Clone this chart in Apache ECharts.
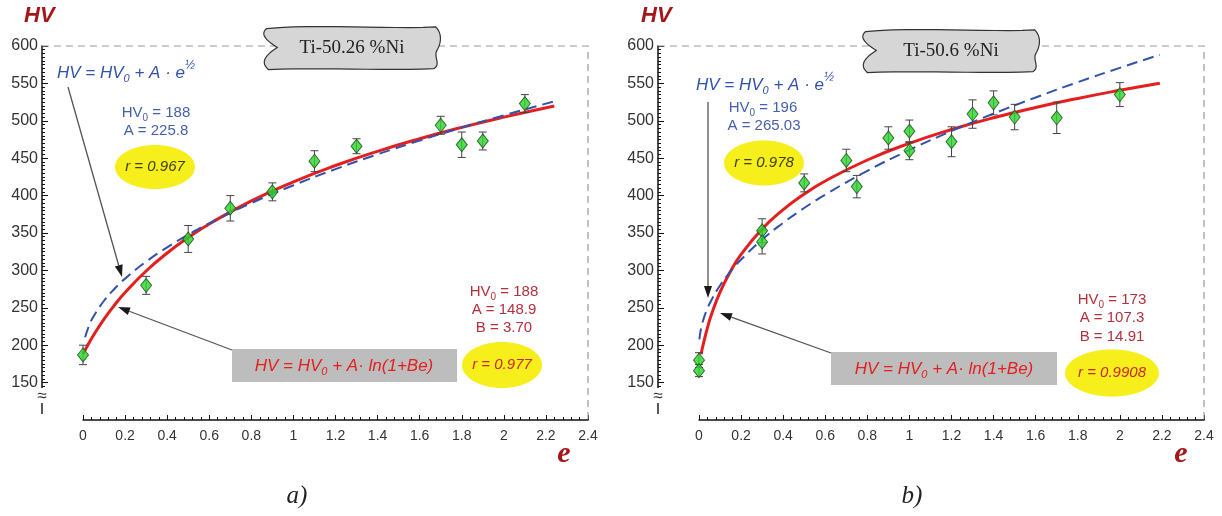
<!DOCTYPE html>
<html>
<head>
<meta charset="utf-8">
<script src="https://cdn.jsdelivr.net/npm/echarts@6/dist/echarts.min.js"></script>
<style>
  html, body { margin: 0; padding: 0; background: #fff; }
  #chart { width: 1222px; height: 516px; }
</style>
</head>
<body>
<div id="chart"></div>
<script>
// ---- data ----
// a) Ti-50.26 %Ni
var eA   = [0, 0.3, 0.5, 0.7, 0.9, 1.1, 1.3, 1.7, 1.8, 1.9, 2.1];
var hvA  = [187, 280, 342, 383, 405, 446, 466, 494, 468, 473, 523];
var errA = [13, 12, 18, 17, 12, 14, 10, 12, 17, 12, 12];
// fitted curves a)
var logEA  = [0, 0.02, 0.05, 0.1, 0.15, 0.2, 0.3, 0.4, 0.5, 0.6, 0.8, 1.0, 1.2, 1.4, 1.6, 1.8, 2.0, 2.24];
var logHA  = [188, 198.6, 213.3, 234.9, 253.7, 270.5, 299.2, 323.2, 343.9, 362.1, 392.9, 418.4, 440.2, 459.2, 476.0, 491.2, 504.9, 519.9];
var sqrtEA = [0.01, 0.03, 0.05, 0.1, 0.15, 0.2, 0.3, 0.4, 0.5, 0.6, 0.8, 1.0, 1.2, 1.4, 1.6, 1.8, 2.0, 2.24];
var sqrtHA = [210.6, 227.1, 238.5, 259.4, 275.5, 289.0, 311.7, 330.8, 347.7, 362.9, 390.0, 413.8, 435.4, 455.2, 473.6, 490.9, 507.3, 526.0];

// b) Ti-50.6 %Ni
var eB   = [0, 0, 0.3, 0.3, 0.5, 0.7, 0.75, 0.9, 1.0, 1.0, 1.2, 1.3, 1.4, 1.5, 1.7, 2.0];
var hvB  = [180, 166, 353, 338, 417, 447, 412, 477, 486, 460, 472, 509, 524, 505, 504, 535];
var errB = [10, 8, 16, 16, 12, 15, 15, 15, 15, 12, 20, 19, 16, 17, 21, 16];
// fitted curves b)
var logEB  = [0.01, 0.02, 0.04, 0.06, 0.1, 0.15, 0.2, 0.3, 0.4, 0.5, 0.6, 0.8, 1.0, 1.2, 1.4, 1.6, 1.8, 2.0, 2.19];
var logHB  = [187.9, 201.0, 223.2, 241.6, 270.9, 299.0, 321.3, 355.4, 381.2, 402.1, 419.5, 447.6, 469.9, 488.3, 504.1, 517.8, 529.9, 540.8, 550.3];
var sqrtEB = [0.002, 0.005, 0.01, 0.02, 0.04, 0.06, 0.1, 0.15, 0.2, 0.3, 0.4, 0.5, 0.6, 0.8, 1.0, 1.2, 1.4, 1.6, 1.8, 2.0, 2.19];
var sqrtHB = [207.9, 214.7, 222.5, 233.5, 249.0, 260.9, 279.8, 298.6, 314.5, 341.2, 363.6, 383.4, 401.3, 433.1, 461.0, 486.3, 509.6, 531.2, 551.6, 570.8, 588.2];

// axis ranges / ticks
var xMin = 0, xMax = 2.4, xStep = 0.2;
var yMin = 100, yMax = 600, yStep = 50;
var yHidden = [100];

var SANS = 'Liberation Sans, Arial, sans-serif';
var SERIF = 'Liberation Serif, Times New Roman, serif';
var RED = '#e3201f', BLUE = '#3152ae', DARKRED = '#a4161a';

function zip(xs, ys) { return xs.map(function (x, i) { return [x, ys[i]]; }); }
function bars(xs, ys, es) { return xs.map(function (x, i) { return [x, ys[i] - es[i], ys[i] + es[i]]; }); }

function errRender(params, api) {
  var x = api.value(0);
  var lo = api.coord([x, api.value(1)]), hi = api.coord([x, api.value(2)]);
  var w = 4, st = { stroke: '#444', lineWidth: 1 };
  return { type: 'group', children: [
    { type: 'line', shape: { x1: lo[0], y1: lo[1], x2: hi[0], y2: hi[1] }, style: st },
    { type: 'line', shape: { x1: lo[0] - w, y1: lo[1], x2: lo[0] + w, y2: lo[1] }, style: st },
    { type: 'line', shape: { x1: hi[0] - w, y1: hi[1], x2: hi[0] + w, y2: hi[1] }, style: st }
  ]};
}

function xAxis(i) {
  return {
    gridIndex: i, type: 'value', min: xMin, max: xMax, interval: xStep,
    axisLine: { onZero: false, lineStyle: { color: '#111', width: 1.5 } },
    axisTick: { inside: true, length: 5, lineStyle: { color: '#111' } },
    minorTick: { show: true, splitNumber: 5, length: 3, lineStyle: { color: '#111' } },
    splitLine: { show: false },
    axisLabel: { color: '#333', fontSize: 14, fontFamily: SANS, margin: 9,
      formatter: function (v) { return String(+v.toFixed(1)); } }
  };
}
function yAxis(i) {
  return {
    gridIndex: i, type: 'value', min: yMin, max: yMax, interval: yStep, offset: 41,
    axisLine: { show: true, onZero: false, lineStyle: { color: '#111', width: 1.5 } },
    axisTick: { inside: true, length: 6, lineStyle: { color: '#111' } },
    minorTick: { show: true, splitNumber: 10, length: 3, lineStyle: { color: '#111' } },
    splitLine: { show: false },
    axisLabel: { color: '#333', fontSize: 16, fontFamily: SANS, margin: 4,
      formatter: function (v) { return yHidden.indexOf(v) >= 0 ? '' : String(v); } }
  };
}
function panelSeries(i, e, hv, err, le, lh, se, sh) {
  return [
    { type: 'line', xAxisIndex: i, yAxisIndex: i, data: zip(le, lh), smooth: true, symbol: 'none',
      lineStyle: { color: RED, width: 3 }, z: 3, silent: true },
    { type: 'line', xAxisIndex: i, yAxisIndex: i, data: zip(se, sh), smooth: true, symbol: 'none',
      lineStyle: { color: BLUE, width: 2, type: [11, 6] }, z: 4, silent: true },
    { type: 'custom', xAxisIndex: i, yAxisIndex: i, data: bars(e, hv, err), renderItem: errRender,
      encode: { x: 0, y: [1, 2] }, z: 5, silent: true },
    { type: 'scatter', xAxisIndex: i, yAxisIndex: i, data: zip(e, hv), symbol: 'diamond', symbolSize: [11, 14],
      itemStyle: { color: '#2ad62a', borderColor: '#1d4d1d', borderWidth: 1 }, z: 6, silent: true }
  ];
}

// ---- annotation helpers ----
var Z = 100;
function txt(x, y, text, rich, align) {
  return { type: 'text', x: x, y: y, z: Z,
    style: { text: text, rich: rich, align: align || 'center', verticalAlign: 'middle' } };
}
function arrow(x1, y1, x2, y2) {
  var a = Math.atan2(y2 - y1, x2 - x1), L = 12, W = 4;
  var bx = x2 - L * Math.cos(a), by = y2 - L * Math.sin(a);
  var px = -Math.sin(a) * W, py = Math.cos(a) * W;
  return [
    { type: 'line', z: Z, shape: { x1: x1, y1: y1, x2: bx, y2: by }, style: { stroke: '#555', lineWidth: 1.3 } },
    { type: 'polygon', z: Z, shape: { points: [[x2, y2], [bx + px, by + py], [bx - px, by - py]] }, style: { fill: '#1a1a1a' } }
  ];
}
function ellipse(cx, cy, rx, ry, label, color) {
  return [
    { type: 'ellipse', z: Z, shape: { cx: cx, cy: cy, rx: rx, ry: ry }, style: { fill: '#f7ef1c' } },
    txt(cx, cy, '{r|' + label + '}', { r: { fontSize: 15, fontStyle: 'italic', fontFamily: SANS, fill: color } })
  ];
}
// wavy label box outline, sampled from cubic segments (relative units)
var cloudSegs = [
  [[0.02, 0.08], [0.3, -0.03], [0.7, 0.1], [0.97, 0.04]],
  [[0.97, 0.04], [1.01, 0.2], [1.0, 0.42], [0.975, 0.58]],
  [[0.975, 0.58], [0.96, 0.72], [1.0, 0.88], [0.96, 0.97]],
  [[0.96, 0.97], [0.7, 1.02], [0.3, 0.94], [0.03, 0.99]],
  [[0.03, 0.99], [-0.01, 0.85], [0.0, 0.7], [0.08, 0.5]],
  [[0.08, 0.5], [0.0, 0.3], [-0.01, 0.18], [0.02, 0.08]]
];
function cloud(x, y, w, h, label) {
  var pts = [];
  cloudSegs.forEach(function (s) {
    for (var k = 0; k < 12; k++) {
      var t = k / 12, u = 1 - t;
      var px = u*u*u*s[0][0] + 3*u*u*t*s[1][0] + 3*u*t*t*s[2][0] + t*t*t*s[3][0];
      var py = u*u*u*s[0][1] + 3*u*u*t*s[1][1] + 3*u*t*t*s[2][1] + t*t*t*s[3][1];
      pts.push([x + px * w, y + py * h]);
    }
  });
  return [
    { type: 'polygon', z: Z, shape: { points: pts }, style: { fill: '#d6d6d6', stroke: '#333', lineWidth: 1.2 } },
    txt(x + w / 2, y + h / 2 + 1, '{t|' + label + '}', { t: { fontSize: 19, fontFamily: SERIF, fill: '#222' } })
  ];
}
function frame(x0, x1, yTop, yBot) {
  return { type: 'polyline', z: 1, shape: { points: [[x0, yTop], [x1, yTop], [x1, yBot]] },
    style: { stroke: '#9a9a9a', lineWidth: 1.2, lineDash: [7, 5], fill: null } };
}
function axisBreak(x) {
  return [
    { type: 'rect', z: Z, shape: { x: x - 8, y: 388, width: 16, height: 34 }, style: { fill: '#fff' } },
    txt(x, 396, '{b|≈}', { b: { fontSize: 17, fontFamily: SANS, fill: '#333' } }),
    { type: 'line', z: Z, shape: { x1: x, y1: 403, x2: x, y2: 414 }, style: { stroke: '#222', lineWidth: 1.5 } }
  ];
}

var F = 17;
var richBlue = {
  a: { fontSize: F, fontStyle: 'italic', fontFamily: SANS, fill: BLUE, lineHeight: 26, verticalAlign: 'middle' },
  s: { fontSize: 11, fontStyle: 'italic', fontFamily: SANS, fill: BLUE, lineHeight: 26, verticalAlign: 'bottom', padding: [0, 0, 2, 0] },
  p: { fontSize: 12, fontStyle: 'italic', fontFamily: SANS, fill: BLUE, lineHeight: 26, verticalAlign: 'top' }
};
var richRed = {
  a: { fontSize: F, fontStyle: 'italic', fontFamily: SANS, fill: RED, lineHeight: 26, verticalAlign: 'middle' },
  s: { fontSize: 11, fontStyle: 'italic', fontFamily: SANS, fill: RED, lineHeight: 26, verticalAlign: 'bottom', padding: [0, 0, 2, 0] }
};
function richParam(color) {
  return {
    n: { fontSize: 15, fontFamily: SANS, fill: color, lineHeight: 20, verticalAlign: 'middle' },
    s: { fontSize: 10, fontFamily: SANS, fill: color, lineHeight: 20, verticalAlign: 'bottom' }
  };
}
var blueFormula = '{a|HV = HV}{s|0}{a| + A · e}{p|½}';
var redFormula = '{a|HV = HV}{s|0}{a| + A· ln(1+Be)}';
var PB = '#4560ad', PR = '#b3303d';
var richHV = { h: { fontSize: 22, fontWeight: 'bold', fontStyle: 'italic', fontFamily: SANS, fill: DARKRED } };
var richE = { e: { fontSize: 30, fontWeight: 'bold', fontStyle: 'italic', fontFamily: SERIF, fill: DARKRED } };
var richLab = { l: { fontSize: 25, fontStyle: 'italic', fontFamily: SERIF, fill: '#222' } };

var graphics = [].concat(
  // panel a
  frame(42, 588, 46, 420), axisBreak(42),
  txt(24, 16, '{h|HV}', richHV, 'left'),
  cloud(263, 25, 178, 45, 'Ti-50.26 %Ni'),
  txt(57, 73, blueFormula, richBlue, 'left'),
  txt(156, 113, '{n|HV}{s|0}{n| = 188}', richParam(PB)),
  txt(156, 131, '{n|A = 225.8}', richParam(PB)),
  ellipse(155, 167, 40, 22, 'r = 0.967', '#3d3d12'),
  arrow(68, 87, 122, 277),
  [{ type: 'rect', z: Z, shape: { x: 232, y: 349, width: 225, height: 33 }, style: { fill: '#bdbdbd' } }],
  txt(344, 366, redFormula, richRed),
  arrow(232, 350, 118, 307),
  txt(504, 292, '{n|HV}{s|0}{n| = 188}', richParam(PR)),
  txt(504, 310, '{n|A = 148.9}', richParam(PR)),
  txt(504, 328, '{n|B = 3.70}', richParam(PR)),
  ellipse(502, 365, 40, 23, 'r = 0.977', '#cc2626'),
  txt(564, 454, '{e|e}', richE),
  txt(297, 496, '{l|a)}', richLab),
  // panel b
  frame(658, 1204, 46, 420), axisBreak(658),
  txt(641, 16, '{h|HV}', richHV, 'left'),
  cloud(862, 28, 178, 45, 'Ti-50.6 %Ni'),
  txt(696, 85, blueFormula, richBlue, 'left'),
  txt(763, 108, '{n|HV}{s|0}{n| = 196}', richParam(PB)),
  txt(764, 126, '{n|A = 265.03}', richParam(PB)),
  ellipse(764, 163, 40, 22.5, 'r = 0.978', '#3d3d12'),
  arrow(708, 102, 708, 298),
  [{ type: 'rect', z: Z, shape: { x: 831, y: 352, width: 226, height: 33 }, style: { fill: '#bdbdbd' } }],
  txt(944, 369, redFormula, richRed),
  arrow(831, 353, 720, 313),
  txt(1112, 300, '{n|HV}{s|0}{n| = 173}', richParam(PR)),
  txt(1112, 318, '{n|A = 107.3}', richParam(PR)),
  txt(1112, 337, '{n|B = 14.91}', richParam(PR)),
  ellipse(1112, 373, 47, 23.5, 'r = 0.9908', '#cc2626'),
  txt(1181, 454, '{e|e}', richE),
  txt(912, 496, '{l|b)}', richLab)
);

var chart = echarts.init(document.getElementById('chart'), null, { renderer: 'canvas' });
chart.setOption({
  animation: false,
  backgroundColor: '#fff',
  grid: [
    { left: 83, top: 46, width: 505, height: 374 },
    { left: 699, top: 46, width: 505, height: 374 }
  ],
  xAxis: [xAxis(0), xAxis(1)],
  yAxis: [yAxis(0), yAxis(1)],
  series: [].concat(
    panelSeries(0, eA, hvA, errA, logEA, logHA, sqrtEA, sqrtHA),
    panelSeries(1, eB, hvB, errB, logEB, logHB, sqrtEB, sqrtHB)
  ),
  graphic: graphics
});
</script>
</body>
</html>
